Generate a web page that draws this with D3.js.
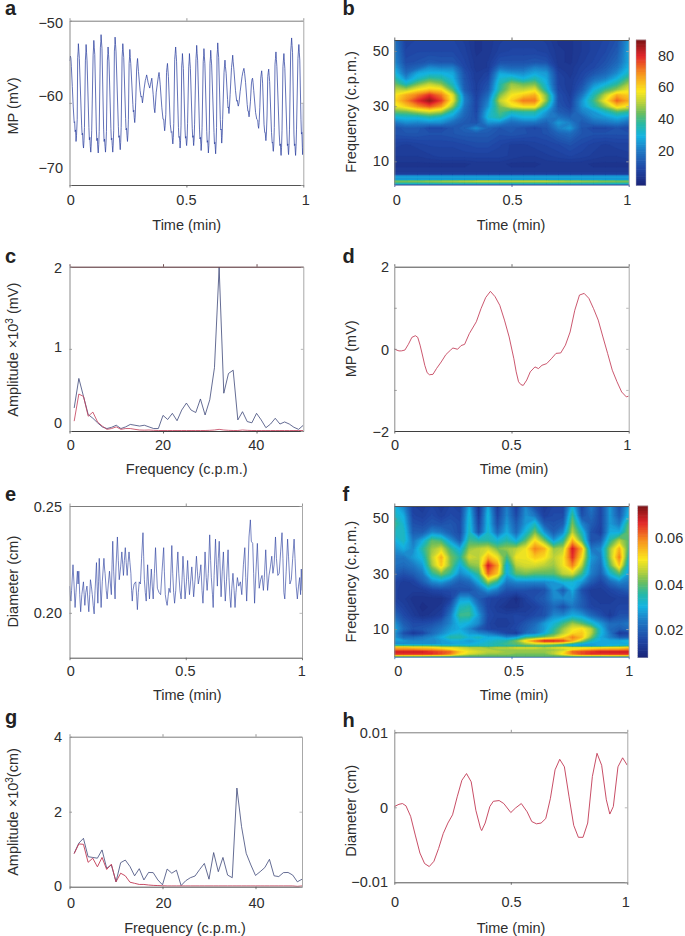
<!DOCTYPE html>
<html><head><meta charset="utf-8">
<script src="https://cdn.jsdelivr.net/npm/d3@7"></script>
<style>html,body{margin:0;padding:0;background:#fff}svg{display:block}text{font-family:"Liberation Sans",sans-serif;fill:#2e2e2e}</style>
</head><body><div id="chart"></div>
<script>
// a: membrane potential (t, mV)
const mpSeries=[[0,-54.9],[.002,-54.7],[.004,-54.3],[.006,-54.6],[.008,-55.6],[.012,-58],[.016,-60.5],[.02,-62.4],[.022,-62.3],[.024,-63.5],[.026,-63.3],[.028,-64.7],[.03,-64],[.033,-62],
[.035,-54.5],[.037,-53.7],[.038,-52.8],[.04,-53.7],[.042,-54.6],[.052,-62.8],[.054,-63.9],[.056,-63.7],[.058,-65],[.06,-65.5],[.062,-64.6],[.064,-63],
[.068,-54.8],[.07,-53.8],[.071,-52.9],[.073,-53.9],[.075,-54.9],[.083,-63],[.085,-64.5],[.087,-64.2],[.089,-65.3],[.091,-66],[.093,-65],[.095,-63.4],
[.101,-54.2],[.103,-53.2],[.104,-52.4],[.106,-53.3],[.108,-54.1],[.115,-63.3],[.117,-64.6],[.119,-64.3],[.121,-65.5],[.123,-66.1],[.125,-65.1],[.127,-63.5],
[.132,-53.3],[.134,-52.5],[.135,-51.7],[.137,-52.6],[.139,-53.4],[.146,-63.2],[.148,-64.7],[.15,-64.4],[.152,-65.3],[.154,-66],[.156,-65],[.158,-63.5],
[.162,-54.8],[.164,-54],[.165,-53.2],[.167,-54.1],[.169,-55],[.177,-63.1],[.179,-64.5],[.181,-64.3],[.183,-65.2],[.185,-66],[.187,-65],[.189,-63.4],
[.192,-53.7],[.194,-52.9],[.195,-52],[.197,-52.9],[.199,-53.8],[.209,-62.9],[.211,-64.2],[.213,-64],[.215,-65],[.217,-65.7],[.219,-64.8],[.221,-63],
[.225,-54.4],[.227,-53.5],[.228,-52.8],[.23,-53.7],[.232,-54.5],[.24,-61.9],[.242,-63.3],[.244,-63.1],[.246,-64],[.248,-64.7],[.25,-63.8],[.252,-62],
[.255,-55.2],[.257,-54.4],[.258,-53.5],[.26,-54.5],[.262,-55.2],[.271,-60.2],[.273,-61.1],[.275,-60.9],[.277,-61.8],[.279,-62.4],[.281,-61.6],[.283,-60],
[.287,-56],[.289,-55.2],[.291,-54.6],[.293,-55.4],[.295,-56.2],[.302,-58.5],[.306,-59.3],[.309,-59.2],[.312,-60],[.315,-59.3],[.319,-58.3],
[.324,-57.3],[.327,-57],[.33,-56.6],[.333,-57],[.336,-57.5],[.34,-57.9],[.343,-58.2],[.346,-57.8],[.349,-57.4],[.352,-57],[.354,-57.7],[.358,-59],[.362,-60.6],[.365,-61.2],[.367,-60.4],[.371,-58.7],
[.378,-57.2],[.381,-56.6],[.383,-56.3],[.385,-56.8],[.388,-57.8],[.395,-60.6],[.4,-62],[.403,-62],[.405,-62.8],[.407,-63.4],[.409,-62.8],[.412,-61.4],
[.415,-56.3],[.417,-55.7],[.419,-55.2],[.421,-56],[.423,-56.8],[.431,-62.6],[.435,-63.6],[.438,-63.5],[.44,-64.4],[.442,-65],[.444,-64.2],[.446,-62.5],
[.45,-54.7],[.452,-54],[.454,-53.2],[.456,-54.1],[.458,-55],[.466,-63],[.468,-64.2],[.47,-64.1],[.472,-64.8],[.473,-65.5],[.475,-64.6],[.477,-62.8],
[.48,-55.5],[.482,-54.8],[.483,-54],[.485,-55],[.487,-55.8],[.494,-63.2],[.496,-64.3],[.498,-64.1],[.5,-65],[.501,-65.2],[.503,-64.4],[.505,-62.5],
[.51,-55.6],[.512,-54.8],[.513,-54],[.515,-55],[.517,-55.8],[.525,-63.1],[.527,-64.2],[.529,-64],[.53,-64.8],[.531,-65.2],[.533,-64.4],[.535,-62.6],
[.541,-54.6],[.543,-53.8],[.544,-53],[.546,-54],[.548,-54.8],[.556,-63.2],[.558,-64.4],[.56,-64.2],[.562,-65.1],[.563,-65.8],[.565,-64.9],[.567,-63],
[.572,-55],[.574,-54.2],[.575,-53.4],[.577,-54.4],[.579,-55.2],[.587,-63.5],[.589,-64.8],[.591,-64.6],[.593,-65.5],[.594,-66.1],[.596,-65.2],[.598,-63.4],
[.601,-55.2],[.603,-54.4],[.604,-53.6],[.606,-54.6],[.608,-55.4],[.618,-63.6],[.62,-65],[.622,-64.8],[.624,-65.7],[.625,-66.2],[.627,-65],[.629,-63],
[.631,-54.3],[.633,-53.5],[.634,-52.7],[.636,-53.7],[.638,-54.5],[.645,-62],[.647,-63.3],[.649,-63.2],[.65,-64.2],[.651,-64.9],[.653,-64],[.655,-62],
[.661,-56.3],[.663,-55.5],[.665,-54.8],[.667,-55.6],[.67,-56.4],[.676,-59.6],[.678,-60.6],[.68,-60.5],[.681,-61],[.682,-61.3],[.684,-60.6],[.687,-59],
[.693,-55.7],[.696,-54.9],[.698,-54.2],[.7,-55],[.703,-55.9],[.71,-58.5],[.715,-59.8],[.718,-59.7],[.72,-60.2],[.722,-60.4],[.725,-60],[.73,-58.6],
[.738,-56.8],[.742,-56.2],[.746,-55.8],[.749,-56.4],[.753,-57.5],[.76,-60.2],[.763,-61],[.765,-61],[.767,-61.5],[.768,-61.7],[.77,-61.2],[.774,-59.8],
[.778,-57.7],[.781,-57.1],[.783,-57],[.785,-57.5],[.788,-58.5],[.796,-61.2],[.801,-62],[.805,-62.1],[.807,-62.8],[.809,-63.1],[.811,-62.4],[.814,-60.6],
[.818,-57],[.82,-56.5],[.822,-56.1],[.824,-56.8],[.826,-57.6],[.832,-62.6],[.835,-63.6],[.837,-63.6],[.839,-64.3],[.84,-64.6],[.842,-63.8],[.845,-61.6],
[.848,-56.8],[.85,-56.3],[.852,-55.9],[.854,-56.7],[.856,-57.4],[.864,-63.6],[.867,-64.9],[.869,-64.8],[.871,-65.8],[.872,-65.9],[.874,-65],[.876,-63],
[.879,-55.3],[.881,-54.6],[.883,-53.8],[.885,-54.7],[.887,-55.6],[.897,-63.8],[.9,-65.2],[.902,-65],[.904,-66.1],[.905,-66.4],[.907,-65.4],[.909,-63.4],
[.913,-55.6],[.915,-54.8],[.917,-54],[.919,-55],[.921,-55.8],[.93,-63.8],[.932,-65.2],[.934,-65],[.936,-66],[.937,-66.3],[.939,-65.2],[.941,-63.2],
[.946,-53.8],[.948,-53],[.95,-52.1],[.952,-53],[.954,-53.9],[.96,-63.8],[.962,-65.2],[.964,-65],[.966,-66],[.967,-66.4],[.969,-65.3],[.971,-63.2],
[.977,-54.6],[.979,-53.8],[.981,-52.9],[.983,-53.9],[.985,-54.8],[.99,-62],[.992,-63.8],[.994,-63.6],[.996,-65.4],[.997,-66.3],[.999,-65.6],[1,-60]];

// e: vessel diameter (t, cm)
const diameterSeries=[[0,.2125],[.003,.2085],[.006,.2055],[.009,.2105],[.015,.2225],[.019,.2145],[.024,.2025],[.028,.2095],[.034,.2195],[.037,.2135],[.04,.2195],[.044,.2085],[.048,.2005],[.053,.2085],[.06,.2145],[.063,.2085],[.066,.2035],[.07,.2095],[.075,.2125],[.079,.2065],[.083,.2005],[.087,.2085],[.09,.2155],[.094,.2125],[.098,.2085],[.102,.2035],[.106,.1995],[.11,.2105],[.116,.2235],[.119,.2125],[.122,.2045],[.125,.2145],[.128,.2255],[.132,.2135],[.136,.2025],[.141,.2145],[.148,.2255],[.151,.2205],[.153,.2185],[.158,.2105],[.162,.2065],[.167,.2135],[.172,.2195],[.176,.2135],[.18,.2085],[.183,.2225],[.186,.2335],[.19,.2195],[.196,.2065],[.2,.2215],[.206,.2355],[.21,.2245],[.214,.2155],[.22,.2215],[.225,.2285],[.229,.2225],[.232,.2175],[.236,.2245],[.24,.2305],[.244,.2235],[.248,.2175],[.252,.2235],[.256,.2285],[.26,.2235],[.264,.2185],[.267,.2105],[.27,.2055],[.273,.2105],[.278,.2135],[.285,.2145],[.289,.2075],[.292,.2015],[.296,.2095],[.3,.2145],[.305,.2135],[.31,.2255],[.316,.2375],[.319,.2265],[.322,.2155],[.326,.2095],[.33,.2055],[.333,.2145],[.336,.2225],[.34,.2135],[.344,.2065],[.348,.2135],[.352,.2205],[.356,.2125],[.36,.2065],[.365,.2185],[.37,.2305],[.374,.2205],[.378,.2115],[.385,.2095],[.392,.2085],[.398,.2195],[.405,.2305],[.408,.2195],[.412,.2085],[.416,.2055],[.42,.2035],[.424,.2075],[.428,.2115],[.433,.2095],[.44,.2315],[.444,.2185],[.448,.2095],[.452,.2045],[.457,.2105],[.462,.2215],[.466,.2285],[.47,.2185],[.475,.2105],[.48,.2065],[.484,.2155],[.488,.2265],[.493,.2165],[.497,.2065],[.503,.2145],[.508,.2245],[.512,.2155],[.516,.2085],[.52,.2135],[.526,.2215],[.53,.2145],[.534,.2075],[.54,.2155],[.546,.2265],[.55,.2195],[.554,.2135],[.56,.2175],[.565,.2225],[.57,.2105],[.574,.2045],[.578,.2135],[.583,.2285],[.588,.2165],[.592,.2105],[.597,.2185],[.603,.2365],[.607,.2245],[.61,.2165],[.615,.2085],[.618,.2025],[.622,.2175],[.628,.2345],[.632,.2225],[.636,.2125],[.64,.2255],[.644,.2335],[.648,.2205],[.652,.2075],[.657,.2195],[.662,.2285],[.666,.2155],[.67,.2055],[.675,.2145],[.682,.2295],[.686,.2165],[.69,.2075],[.694,.2025],[.698,.2115],[.703,.2185],[.708,.2105],[.712,.2025],[.716,.2095],[.722,.2165],[.728,.2125],[.735,.2145],[.741,.2085],[.748,.2225],[.754,.2305],[.758,.2165],[.762,.2055],[.768,.2215],[.772,.2355],[.778,.2435],[.782,.2335],[.788,.2325],[.792,.2185],[.796,.2045],[.802,.2195],[.808,.2325],[.812,.2205],[.816,.2115],[.822,.2155],[.828,.2175],[.834,.2105],[.838,.2165],[.844,.2295],[.848,.2195],[.852,.2105],[.858,.2175],[.864,.2215],[.87,.2265],[.875,.2185],[.88,.2225],[.886,.2355],[.89,.2255],[.896,.2175],[.902,.2185],[.908,.2285],[.914,.2375],[.918,.2255],[.922,.2095],[.926,.2065],[.932,.2195],[.938,.2345],[.942,.2265],[.948,.2135],[.954,.2155],[.96,.2255],[.966,.2345],[.97,.2255],[.975,.2125],[.98,.2065],[.985,.2125],[.99,.2165],[.994,.2085],[.997,.2205],[1,.2105]];

// c: amplitude spectrum of MP
const freqC=[1,2,3,4,5,6,7,8,9,10,11,12,13,14,15,16,17,18,19,20,21,22,23,24,25,26,27,28,29,30,31,32,33,34,35,36,37,38,39,40,41,42,43,44,45,46,47,48,49,50];
const ampCraw=[.28,.64,.42,.2,.155,.1,.05,.03,.045,.07,.03,.05,.08,.07,.06,.07,.05,.03,.03,.19,.14,.215,.125,.255,.34,.255,.225,.39,.195,.38,.77,1.99,.46,.7,.74,.135,.235,.115,.1,.215,.135,.04,.085,.155,.085,.11,.085,.045,.02,.07];
const ampCfilt=[.12,.45,.42,.18,.23,.11,.06,.02,.03,.05,.02,.03,.03,.02,.012,.01,.012,.008,.006,.006,.006,.006,.006,.006,.006,.006,.006,.006,.006,.008,.012,.02,.012,.008,.006,.006,.012,.008,.006,.006,.006,.006,.006,.006,.006,.006,.006,.006,.006,.006];
// g: amplitude spectrum of diameter
const freqG=freqC;
const ampGraw=[.89,1.16,1.29,.8,.78,.76,.98,.49,.58,.13,.64,.71,.54,.29,.48,.18,.38,.375,.18,.05,.47,.36,.44,.03,.16,.24,.285,.46,.62,.2,.91,.4,.78,.31,.24,2.63,1.6,.89,.58,.3,.4,.51,.73,.29,.27,.375,.38,.31,.13,.2];
const ampGfilt=[.88,1.14,1.13,.65,.76,.53,.78,.46,.6,.13,.36,.29,.12,.09,.06,.06,.045,.035,.03,.025,.02,.02,.02,.02,.02,.02,.02,.02,.02,.02,.02,.02,.02,.02,.02,.02,.02,.02,.02,.02,.02,.02,.02,.02,.02,.02,.02,.02,.01,.02];
// d: slow-wave MP
const slowMpT=[0,.01,.02,.03,.045,.06,.075,.09,.1,.11,.12,.13,.14,.15,.165,.18,.2,.22,.24,.25,.27,.285,.3,.32,.35,.37,.39,.41,.43,.45,.47,.49,.51,.52,.53,.54,.55,.565,.58,.6,.615,.63,.65,.67,.69,.71,.73,.75,.77,.79,.81,.83,.85,.87,.89,.91,.93,.95,.97,.99,1];
const slowMpV=[0,-.03,-.05,-.05,-.03,.11,.28,.32,.28,.09,-.15,-.4,-.58,-.63,-.62,-.48,-.32,-.14,-.03,.02,-.01,.08,.11,.37,.66,.98,1.25,1.4,1.27,1.06,.7,.29,-.24,-.56,-.8,-.87,-.89,-.76,-.56,-.44,-.48,-.4,-.36,-.24,-.11,-.1,.09,.41,.94,1.31,1.35,1.23,.98,.7,.29,-.11,-.52,-.8,-1.05,-1.17,-1.15];
// h: slow-wave diameter
const slowDiaT=[0,.02,.035,.05,.07,.09,.11,.13,.15,.17,.19,.21,.23,.25,.27,.29,.31,.33,.35,.37,.375,.39,.41,.425,.45,.47,.5,.52,.545,.57,.59,.61,.63,.65,.67,.69,.71,.73,.75,.77,.79,.81,.83,.85,.87,.89,.91,.925,.94,.96,.98,1];
const slowDiaV=[.0001,.0004,.0005,.0002,-.0012,-.0037,-.0061,-.0075,-.0079,-.0072,-.0055,-.0035,-.0021,-.001,.0014,.0036,.0045,.0034,-.0004,-.0028,-.0031,-.0021,.0001,.0008,.0009,.0005,-.0007,-.0001,.0005,-.0006,-.0019,-.0022,-.0021,-.0015,.0012,.005,.0064,.0054,.0014,-.0024,-.004,-.004,-.0021,.0041,.0072,.0056,.001,-.0009,.0001,.0054,.0066,.0056];

// b: wavelet power of MP
const waveTimeB=[0,.05,.1,.15,.2,.25,.3,.35,.4,.45,.5,.55,.6,.65,.7,.75,.8,.85,.9,.95,1];
const waveFreqB=[54,50,46,44,42,40,38,36,34,32,30,28,26,24,22,20,16,12,9,6.5,5.2,4.7,4.2,3.6,3.2,2.8,2.4,2,1.6];
const wavePowerB=[
20,8,9,9,9,9,7,4,5,7,8,8,8,7,4,4,6,8,9,12,26,
22,9,10,10,10,10,8,4,5,8,9,9,9,8,5,4,6,8,10,14,28,
24,11,12,14,13,13,9,5,6,12,12,12,13,12,5,4,7,9,12,17,28,
28,14,17,24,22,22,10,5,6,19,17,17,22,20,6,5,8,10,14,20,30,
32,18,28,30,30,28,12,6,8,28,25,24,28,26,8,5,9,13,17,24,34,
38,24,33,40,38,30,13,6,10,32,36,30,36,28,9,6,10,18,22,30,42,
45,34,45,52,47,34,14,7,12,36,48,44,46,30,9,6,12,24,30,38,50,
52,50,58,62,60,42,15,7,14,38,52,52,56,34,10,6,15,30,40,48,56,
58,66,72,80,72,55,20,8,18,46,58,62,66,45,12,7,20,36,52,66,62,
60,70,80,88,78,56,22,9,22,52,62,72,72,46,12,8,25,40,58,74,66,
56,62,70,76,68,48,20,9,25,46,56,60,60,36,13,9,25,36,48,62,58,
44,45,50,54,50,34,18,10,30,42,36,38,38,26,15,12,22,26,34,42,38,
30,32,32,36,32,26,16,11,32,38,26,30,30,22,20,16,17,24,26,30,26,
20,24,23,24,24,18,14,12,25,24,18,20,20,16,26,22,14,18,20,22,18,
12,14,14,10,10,13,16,24,16,13,14,12,10,13,22,26,13,10,10,12,10,
12,13,13,12,12,13,14,14,14,12,13,12,11,12,16,18,13,12,12,12,12,
8,7,8,9,9,9,10,11,11,9,7,7,8,9,10,12,10,8,7,8,8,
6,6,6,7,8,8,8,8,8,8,7,6,6,7,8,9,8,7,6,6,7,
4,4,4,4,4,4,4,5,5,5,4,4,4,5,5,5,5,4,4,4,4,
5,5,5,5,5,5,5,5,5,5,5,5,5,5,5,5,5,5,5,5,5,
8,8,8,8,8,8,8,8,8,8,8,8,8,8,8,8,8,8,8,8,8,
24,24,24,24,24,24,24,24,24,24,24,24,24,24,24,24,24,24,24,24,24,
28,28,28,28,28,28,28,28,28,28,28,28,28,28,28,28,28,28,28,28,28,
24,24,24,24,24,24,24,24,24,24,24,24,24,24,24,24,24,24,24,24,24,
28,28,28,28,28,28,28,28,28,28,28,28,28,28,28,28,28,28,28,28,28,
46,46,47,48,49,50,51,52,52,52,52,52,52,52,51,50,49,48,47,46,46,
42,42,42,43,44,44,45,45,45,45,45,45,45,45,44,44,43,43,42,42,42,
33,33,33,33,33,33,33,33,33,33,33,33,33,33,33,33,33,33,33,33,33,
33,33,33,33,33,33,33,33,33,33,33,33,33,33,33,33,33,33,33,33,33];

// f: wavelet power of diameter
const waveTimeF=[0,.04,.08,.12,.16,.2,.24,.28,.32,.36,.4,.44,.48,.52,.56,.6,.64,.68,.72,.76,.8,.84,.88,.92,.96,1];
const waveFreqF=[54,51,48,45,42,39,36,33,30,27,24,21,18,15,12,10,8.5,7,5.7,4.6,3.8,3.2,2.5,1.8,1,.4,0];
const wavePowerF=[
32,26,15,14,16,14,16,15,30,12,30,14,25,15,26,18,14,16,16,32,16,24,16,28,18,30,
34,30,16,15,17,15,17,16,32,14,32,16,26,17,27,24,15,17,17,38,18,22,16,28,20,32,
38,32,18,17,19,18,19,17,33,16,32,18,28,20,28,34,20,18,20,42,26,20,16,28,24,40,
34,34,20,20,26,24,20,17,34,18,33,22,30,22,32,42,28,20,26,46,34,18,15,30,30,42,
30,34,24,30,40,38,28,20,38,36,36,32,36,30,40,52,42,28,36,56,40,18,20,36,46,40,
27,30,26,36,44,48,38,30,44,46,48,42,44,46,50,60,56,44,46,68,56,24,26,44,56,38,
24,24,28,32,46,56,42,36,48,46,56,50,38,50,50,54,52,46,50,66,52,28,24,44,60,34,
23,22,24,28,44,54,42,30,42,44,68,58,30,46,48,48,46,44,50,60,46,26,22,40,54,30,
20,18,20,24,36,42,36,26,30,38,62,54,30,40,42,40,40,40,46,48,38,25,20,32,40,28,
16,14,15,20,26,28,24,20,22,30,44,36,24,26,26,26,26,28,32,32,28,20,16,22,26,24,
15,14,14,14,16,17,17,18,18,22,28,24,18,18,18,17,18,27,20,30,18,14,14,16,18,20,
15,14,12,12,12,12,15,28,28,20,16,15,14,11,15,18,20,26,26,27,20,15,14,14,15,15,
18,15,13,11,12,13,20,34,36,24,16,14,12,12,14,15,18,22,18,24,20,16,15,15,16,16,
22,17,14,12,13,15,24,38,38,28,17,15,15,16,15,17,18,26,26,30,28,22,18,14,18,18,
28,20,17,17,18,21,26,32,30,26,16,14,14,16,19,22,28,32,38,44,40,34,28,22,22,24,
30,22,18,19,21,24,28,30,26,20,16,15,15,17,20,24,28,36,44,50,52,46,32,22,20,22,
28,18,14,16,22,26,30,32,28,26,24,20,16,14,22,24,30,38,46,52,54,46,32,24,14,16,
28,22,22,24,26,30,36,36,32,34,30,30,26,28,36,38,42,46,52,60,55,42,30,25,20,20,
28,28,26,26,26,28,30,30,28,30,32,34,36,42,52,60,66,66,64,56,44,34,30,30,30,32,
26,26,26,26,26,28,28,30,30,32,34,36,38,40,44,46,46,44,40,34,30,28,30,30,30,30,
40,40,40,40,40,38,36,36,34,34,34,36,36,36,36,36,36,36,36,30,28,28,30,32,34,36,
56,56,54,54,52,50,50,48,46,46,44,46,46,48,48,48,46,48,50,50,50,50,50,52,52,54,
60,60,60,58,58,56,52,50,48,46,46,44,44,44,44,44,44,44,46,50,54,56,58,58,58,60,
68,68,68,68,66,64,62,54,50,48,46,46,44,44,44,44,44,46,50,62,64,66,68,68,68,68,
66,66,66,66,66,64,60,52,48,46,44,44,44,42,42,42,42,46,52,60,64,66,66,66,66,66,
48,48,48,48,46,46,44,42,40,40,40,40,40,40,40,40,40,40,42,44,46,46,46,48,48,48,
42,42,42,42,42,42,42,42,42,42,42,42,42,42,42,42,42,42,42,42,42,42,42,42,42,42];

const jetStops=[0,.12,.24,.34,.42,.5,.58,.65,.77,.89,1];
const jetColors=["#1a2478","#2047a6","#1f78c4","#15b4e2","#25b8a8","#6cbd5e","#c2d437","#fbe81d","#f7931e","#e2262b","#7c1416"];
const jet=d3.scaleLinear().domain(jetStops).range(jetColors).clamp(true);

const width=685,height=936;
const svg=d3.select("#chart").append("svg").attr("width",width).attr("height",height);
const FS=14.5;

function frame(x,y,o,g){
  const [x0,x1]=x.range(),[y1,y0]=y.range();
  const ax=(gen,tx,ty,color,w)=>{const s=g.append("g").attr("transform",`translate(${tx},${ty})`).call(gen);
    s.selectAll("text").remove();
    s.selectAll("path.domain").attr("stroke",color).attr("stroke-width",w);
    s.selectAll("line").attr("stroke",color).attr("stroke-width",.8);return s;};
  const xv=o.xTicks, yv=o.yMarks||o.yTicks;
  ax(d3.axisBottom(x).tickValues(xv).tickSize(-2.5).tickSizeOuter(0),0,y0,o.bottomC||"#7d7d7d",1);
  ax(d3.axisTop(x).tickValues(xv).tickSize(-2.5).tickSizeOuter(0),0,y1,o.topC||"#555",1);
  ax(d3.axisRight(y).tickValues(yv).tickSize(-2.5).tickSizeOuter(0),x1,0,"#a8a8a8",1);
  ax(d3.axisLeft(y).tickValues(yv).tickSize(-2.5).tickSizeOuter(0),x0,0,"#8a8a8a",1);
}
function labels(p,x,y,o){
  const t=(px,py,s,anchor)=>svg.append("text").attr("x",px).attr("y",py).attr("text-anchor",anchor||"middle").attr("dominant-baseline","central").attr("font-size",FS).text(s);
  o.yTicks.forEach((v,i)=>t(o.yLabelX,y(v)+o.yNudge[i],o.yFmt[i],"end"));
  o.xTicks.forEach((v,i)=>t(x(v)+o.xNudge[i],o.xLabelY,o.xFmt[i]));
  t(o.xTitleX,o.xTitleY,o.xTitle);
  const yt=svg.append("text").attr("transform",`translate(${o.yTitleX},${o.yTitleY}) rotate(-90)`).attr("text-anchor","middle").attr("font-size",FS);
  if(o.yTitleSup){yt.append("tspan").text(o.yTitle[0]);yt.append("tspan").attr("dy",-5).attr("font-size",10).text(o.yTitleSup);yt.append("tspan").attr("dy",5).text(o.yTitle[1]);}
  else yt.text(o.yTitle);
  svg.append("text").attr("x",o.letterX).attr("y",o.letterY).attr("font-size",20).attr("font-weight","bold").style("fill","#222").text(p);
}
function linePanel(p,box,xd,yd,series,o){
  const x=d3.scaleLinear().domain(xd).range([box[0],box[1]]);
  const y=d3.scaleLinear().domain(yd).range([box[3],box[2]]);
  const g=svg.append("g");
  const id="clip"+p;
  svg.append("clipPath").attr("id",id).append("rect").attr("x",box[0]).attr("y",box[2]).attr("width",box[1]-box[0]).attr("height",box[3]-box[2]);
  series.forEach(s=>{g.append("path").attr("clip-path",`url(#${id})`).attr("d",d3.line().x(d=>x(d[0])).y(d=>y(d[1]))(s.pts)).attr("fill","none").attr("stroke",s.c).attr("stroke-width",s.w).attr("stroke-linejoin","round").attr("opacity",s.op||1);});
  frame(x,y,o,g);labels(p,x,y,o);
}
function heatPanel(p,box,times,freqs,vals,cbar,o){
  const x=d3.scaleLinear().domain([0,1]).range([box[0],box[1]]);
  const y=d3.scaleLinear().domain(o.yDomain).range([box[3],box[2]]);
  const col=v=>jet((v-cbar.domain[0])/(cbar.domain[1]-cbar.domain[0]));
  const g=svg.append("g");const id="clip"+p;
  svg.append("clipPath").attr("id",id).append("rect").attr("x",box[0]).attr("y",box[2]).attr("width",box[1]-box[0]).attr("height",box[3]-box[2]);
  const pg=g.append("g").attr("clip-path",`url(#${id})`);
  pg.append("rect").attr("x",box[0]).attr("y",box[2]).attr("width",box[1]-box[0]).attr("height",box[3]-box[2]).attr("fill",col(d3.min(vals)));
  const px=d3.scaleLinear().domain(times.map((_,i)=>i+.5)).range(times.map(t=>x(t))).clamp(true);
  const py=d3.scaleLinear().domain(freqs.map((_,i)=>i+.5)).range(freqs.map(f=>y(f))).clamp(true);
  const path=d3.geoPath(d3.geoTransform({point(a,b){this.stream.point(px(a),py(b));}}));
  const th=d3.range(64).map(i=>cbar.domain[0]+(i+.5)*(cbar.domain[1]-cbar.domain[0])/64);
  const cs=d3.contours().size([times.length,freqs.length]).thresholds(th)(vals);
  pg.selectAll("path").data(cs).join("path").attr("d",path).attr("fill",d=>col(d.value)).attr("stroke",d=>col(d.value)).attr("stroke-width",.3);
  // colourbar
  const [cx0,cx1,cy0,cy1]=cbar.box;
  const cy=d3.scaleLinear().domain(cbar.domain).range([cy1,cy0]);
  const lv=d3.range(64).map(i=>cbar.domain[0]+i*(cbar.domain[1]-cbar.domain[0])/64);
  const step=(cy1-cy0)/64;
  svg.append("g").selectAll("rect").data(lv).join("rect").attr("x",cx0).attr("width",cx1-cx0).attr("y",d=>cy(d)-step-.3).attr("height",step+.6).attr("fill",d=>col(d+(cbar.domain[1]-cbar.domain[0])/128));
  svg.append("rect").attr("x",cx0).attr("y",cy0).attr("width",cx1-cx0).attr("height",cy1-cy0).attr("fill","none").attr("stroke","#b8b8c4").attr("stroke-width",.5);
  cbar.ticks.forEach((v,i)=>svg.append("text").attr("x",cbar.labelX).attr("y",cy(v)+cbar.nudge[i]).attr("dominant-baseline","central").attr("font-size",FS).text(cbar.fmt[i]));
  frame(x,y,o,g);labels(p,x,y,o);
}

const BLUE="#2f43a0",RED="#c23a55",NAVY="#3d4778";
const rows=(a,b)=>a.map((d,i)=>[d,b[i]]);

linePanel("a",[69.5,303.3,20.7,185],[0,1],[-70,-50],[{pts:mpSeries,c:BLUE,w:.75}],
 {xTicks:[0,.5,1],xFmt:["0","0.5","1"],xNudge:[1.2,0,2.4],xLabelY:200,yTicks:[-50,-60,-70],yFmt:["−50","−60","−70"],yNudge:[2,-7.3,-17.3],yLabelX:63,
  xTitle:"Time (min)",xTitleX:186.7,xTitleY:225,yTitle:"MP (mV)",yTitleX:18,yTitleY:106,letterX:5,letterY:15});
heatPanel("b",[394.3,628.7,40,184.5],waveTimeB,waveFreqB,wavePowerB,
 {domain:[-2,90],box:[636,646,40,185.5],ticks:[80,60,40,20],fmt:["80","60","40","20"],nudge:[0,0,0,0],labelX:658},
 {yDomain:[1.6,54],xTicks:[0,.5,1],xFmt:["0","0.5","1"],xNudge:[2.4,1,-1.4],xLabelY:200,yTicks:[50,30,10],yFmt:["50","30","10"],yNudge:[0,0,0],yLabelX:389,
  xTitle:"Time (min)",xTitleX:511,xTitleY:225,yTitle:"Frequency (c.p.m.)",yTitleX:355.5,yTitleY:112,letterX:342.5,letterY:15,topC:"#3a4a90",bottomC:"#444"});
linePanel("c",[69.5,303.3,266.7,431],[0,50],[0,2],
 [{pts:rows(freqC,ampCraw),c:NAVY,w:.8},{pts:rows(freqC,ampCfilt),c:RED,w:.8}],
 {xTicks:[0,20,40],xFmt:["0","20","40"],xNudge:[1.2,0,-.2],xLabelY:445,yTicks:[2,1,0],yFmt:["2","1","0"],yNudge:[1.3,-2.3,-8.3],yLabelX:62,
  xTitle:"Frequency (c.p.m.)",xTitleX:186.7,xTitleY:469,yTitle:["Amplitude ×10"," (mV)"],yTitleSup:"3",yTitleX:18,yTitleY:349.7,letterX:5,letterY:262.7,topC:"#3f3f3f",bottomC:"#4a2228"});
linePanel("d",[394.3,628.7,266.7,431],[0,1],[-2,2],[{pts:rows(slowMpT,slowMpV),c:RED,w:.85}],
 {xTicks:[0,.5,1],xFmt:["0","0.5","1"],xNudge:[.7,0,-1.4],xLabelY:445,yTicks:[2,0,-2],yMarks:[1,0,-1],yFmt:["2","0","−2"],yNudge:[.3,.7,.7],yLabelX:389,
  xTitle:"Time (min)",xTitleX:514,xTitleY:469,yTitle:"MP (mV)",yTitleX:356,yTitleY:348.8,letterX:342.5,letterY:262.7,topC:"#3f3f3f",bottomC:"#4a4a4a"});
linePanel("e",[69.5,302,506,657.7],[0,1],[.179,.25],[{pts:diameterSeries,c:BLUE,w:.65}],
 {xTicks:[0,.5,1],xFmt:["0","0.5","1"],xNudge:[1.2,-.3,-.3],xLabelY:670.7,yTicks:[.25,.2],yFmt:["0.25","0.20"],yNudge:[1.3,-.2],yLabelX:62,
  xTitle:"Time (min)",xTitleX:187.3,xTitleY:695,yTitle:"Diameter (cm)",yTitleX:17.5,yTitleY:581.7,letterX:5,letterY:500.7});
heatPanel("f",[394.3,628.7,506,656.7],waveTimeF,waveFreqF,wavePowerF,
 {domain:[8,73.5],box:[637.7,648,506,657.7],ticks:[60,40,20],fmt:["0.06","0.04","0.02"],nudge:[1,1,0],labelX:655},
 {yDomain:[0,54.5],xTicks:[0,.5,1],xFmt:["0","0.5","1"],xNudge:[4,2.5,.6],xLabelY:671,yTicks:[50,30,10],yFmt:["50","30","10"],yNudge:[0,0,0],yLabelX:389,
  xTitle:"Time (min)",xTitleX:514,xTitleY:695,yTitle:"Frequency (c.p.m.)",yTitleX:355.5,yTitleY:581.7,letterX:342.5,letterY:500.7,topC:"#2f6fa8",bottomC:"#555"});
linePanel("g",[69.5,302,736.7,886.7],[0,50],[0,4],
 [{pts:rows(freqG,ampGraw),c:NAVY,w:.8},{pts:rows(freqG,ampGfilt),c:RED,w:.9}],
 {xTicks:[0,20,40],xFmt:["0","20","40"],xNudge:[1.5,1,1],xLabelY:902.7,yTicks:[4,2,0],yFmt:["4","2","0"],yNudge:[.6,0,-1],yLabelX:62,
  xTitle:"Frequency (c.p.m.)",xTitleX:185,xTitleY:927.7,yTitle:["Amplitude ×10","(cm)"],yTitleSup:"3",yTitleX:17.5,yTitleY:812,letterX:5,letterY:724});
linePanel("h",[394.3,627.3,732.3,882.3],[0,1],[-.01,.01],[{pts:rows(slowDiaT,slowDiaV),c:RED,w:.9}],
 {xTicks:[0,.5,1],xFmt:["0","0.5","1"],xNudge:[.7,.8,-1.6],xLabelY:901.7,yTicks:[.01,0,-.01],yFmt:["0.01","0","−0.01"],yNudge:[1,.4,0],yLabelX:388,
  xTitle:"Time (min)",xTitleX:511,xTitleY:927.7,yTitle:"Diameter (cm)",yTitleX:355.5,yTitleY:810.8,letterX:342.5,letterY:727});
</script></body></html>
